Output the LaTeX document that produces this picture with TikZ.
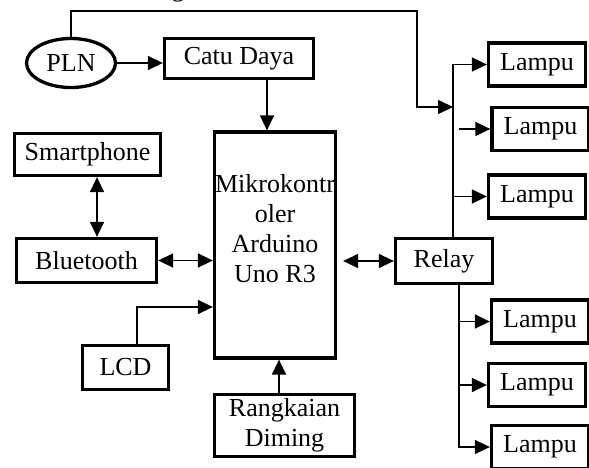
\documentclass[tikz,border=0pt]{standalone}
\usepackage{fontspec}
\setmainfont{Liberation Serif}
\usetikzlibrary{arrows.meta, positioning, shapes.geometric, calc}

\begin{document}
\begin{tikzpicture}[
    x=1pt, y=-1pt,
    block/.style={
        rectangle, draw, line width=3.3pt,
        minimum width=#1, inner sep=0pt,
        font=\fontsize{26}{30}\selectfont, align=center
    },
    block/.default=97pt,
    lamp/.style={block=97pt, minimum height=43pt},
    label/.style={font=\fontsize{26}{30}\selectfont, align=center, inner sep=0pt},
    arrow/.style={-{Triangle[length=15pt,width=14pt]}, line width=1.5pt},
    both/.style={{Triangle[length=15pt,width=14pt]}-{Triangle[length=15pt,width=14pt]}, line width=1.5pt}
]
\useasboundingbox (0,0) rectangle (589,468);

% Nodes
\node[ellipse, draw, line width=3.3pt, inner sep=0pt, minimum width=89pt, minimum height=49pt,
      font=\fontsize{26}{30}\selectfont] (pln) at (71,63) {PLN};
\node[block=149pt, minimum height=40pt] (catu) at (239,58.5) {Catu Daya};
\node[block=121pt, minimum height=226pt] (mcu) at (275,245) {};
\node[label] (mcutext) at (275,229) {Mikrokontr\\oler\\Arduino\\Uno R3};
\node[block=146pt, minimum height=42pt] (smart) at (87.5,154.5) {Smartphone};
\node[block=140pt, minimum height=44pt] (blue) at (86.5,260.5) {Bluetooth};
\node[block=86pt, minimum height=44pt] (lcd) at (125.5,367.5) {LCD};
\node[block=140pt, minimum height=62pt] (dim) at (284.5,425.5) {Rangkaian\\Diming};
\node[block=97pt, minimum height=45pt] (relay) at (444,261) {Relay};

\node[lamp] (lampa) at (537,64.5) {Lampu};
\node[lamp] (lampb) at (540.5,129) {Lampu};
\node[lamp] (lampc) at (537,196.5) {Lampu};
\node[lamp] (lampd) at (540,321.5) {Lampu};
\node[lamp] (lampe) at (537,385) {Lampu};
\node[lamp] (lampf) at (540,447) {Lampu};

% cut-off text at the top edge
\node[label, anchor=base] (cut) at (178,-3) {g};

% Supply
\coordinate (corner) at (417,11);
\coordinate (busa) at ([xshift=9pt]relay.north);
\coordinate (busb) at ([xshift=15pt]relay.south);
\draw[arrow] (pln.east) -- (pln.east -| catu.west);
\draw[arrow] ([xshift=28pt]catu.south) -- ([xshift=28pt]catu.south |- mcu.north);
\draw[arrow] (pln.north) |- (corner) |- ($(busa |- lampb.west)+(0,-22)$);

% Inputs to the controller
\draw[both] ([xshift=9.5pt]smart.south) -- ([xshift=9.5pt]smart.south |- blue.north);
\draw[both] (blue.east) -- (blue.east -| mcu.west);
\draw[arrow] ([xshift=11.5pt]lcd.north) |- ([yshift=-62pt]mcu.west);
\draw[arrow] ([xshift=-5.5pt]dim.north) -- ([xshift=-5.5pt]dim.north |- mcu.south);
\draw[both] ([xshift=6pt]mcu.east |- relay.west) -- (relay.west);

% Relay outputs
\draw[arrow] (busa) |- (lampa.west);
\draw[arrow] ([xshift=-31pt]lampb.west) -- (lampb.west);
\draw[arrow] (busa |- lampc.west) -- (lampc.west);
\draw[arrow] (busb) |- (lampf.west);
\draw[arrow] (busb |- lampd.west) -- (lampd.west);
\draw[arrow] (busb |- lampe.west) -- (lampe.west);

\end{tikzpicture}
\end{document}
